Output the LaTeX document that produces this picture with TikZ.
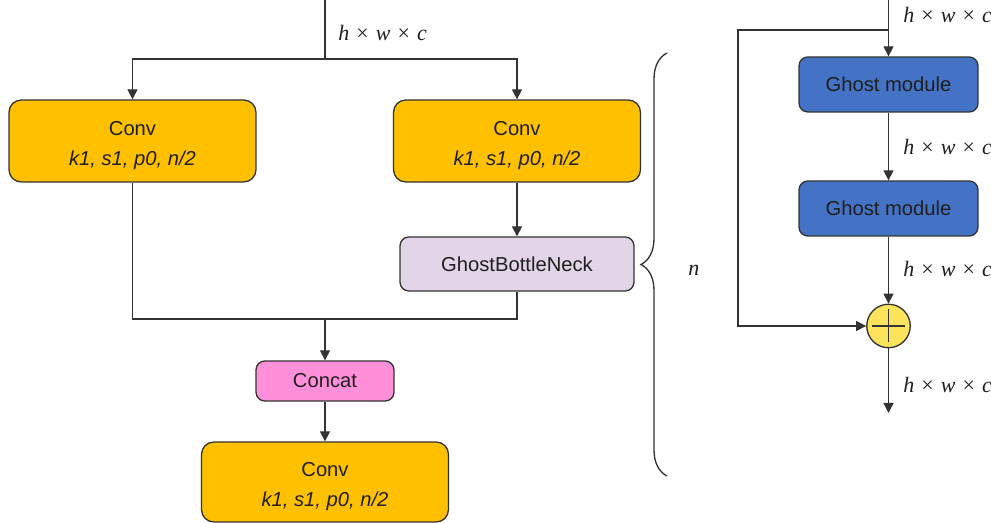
\documentclass[tikz,border=0pt]{standalone}
\usepackage{fontspec}
\setmainfont{Liberation Serif}
\setsansfont{Liberation Sans}
\definecolor{convyellow}{HTML}{FFC000}
\definecolor{ghostblue}{HTML}{4472C4}
\definecolor{gbnlilac}{HTML}{E1D5E7}
\definecolor{catpink}{HTML}{FF8FD8}
\definecolor{sumyellow}{HTML}{FBE45B}
\definecolor{linegray}{HTML}{333333}
\usetikzlibrary{positioning,arrows.meta,decorations.pathreplacing}
\newcommand{\hwc}{\textit{h}\hspace{0.9pt} ×\hspace{0.9pt} \textit{w}\hspace{0.9pt} ×\hspace{0.9pt} \textit{c}}
\newcommand{\convtxt}{\rule{0pt}{13pt}Conv\\[3pt]\textit{k1, s1, p0, n/2}}

\begin{document}
\begin{tikzpicture}[
  x=0.02cm, y=-0.02cm,
  font=\sffamily\fontsize{11.5}{13.8}\selectfont,
  blk/.style={draw=linegray, line width=0.75pt, rounded corners=5pt, align=center, inner sep=0pt, text=black!88},
  conv/.style={blk, fill=convyellow, rounded corners=7pt, minimum width=4.94cm, minimum height=1.64cm},
  gbn/.style={blk, fill=gbnlilac, minimum width=4.68cm, minimum height=1.08cm},
  cat/.style={blk, fill=catpink, minimum width=2.76cm, minimum height=0.8cm},
  ghost/.style={blk, fill=ghostblue, minimum width=3.58cm, minimum height=1.1cm},
  sumnode/.style={circle, draw=linegray, line width=0.75pt, fill=sumyellow, minimum size=0.87cm, inner sep=0pt},
  wire/.style={draw=linegray, line width=0.75pt},
  arr/.style={wire, -{Triangle[length=5.7pt, width=5.7pt]}},
  dim/.style={font=\rmfamily\fontsize{12.5}{14}\selectfont, anchor=west, inner sep=0pt, text=black!88},
  brc/.style={wire, decorate, decoration={brace, amplitude=0.52cm}},
]
  \useasboundingbox (0,0) rectangle (991,523);

  % left branch
  \coordinate (inL) at (325,0);
  \coordinate (split) at (325,59);
  \node[conv] (convL) at (132.5,141) {\convtxt};
  \node[conv] (convR) at (517,141) {\convtxt};
  \node[gbn]  (gbn) at (517,264) {GhostBottleNeck};
  \coordinate (merge) at (325,319);
  \node[cat]  (concat) at (325,381) {Concat};
  \node[conv, minimum height=1.6cm] (convB) at (325,482) {\convtxt};
  \node[dim] (dimIn) at (338,33) {\hwc};

  \draw[wire] (inL) -- (split);
  \draw[arr] (split) -| (convL);
  \draw[arr] (split) -| (convR);
  \draw[arr] (convR) -- (gbn);
  \draw[wire] (convL.south) |- (merge);
  \draw[wire] (gbn.south) |- (merge);
  \draw[arr] (merge) -- (concat);
  \draw[arr] (concat) -- (convB);

  % repeat brace
  \coordinate (brTop) at (667,53);
  \coordinate (brBot) at (667,476);
  \draw[brc] (brBot) -- (brTop);
  \node[dim] (nlab) at (688,270) {\textit{n}};

  % right: ghost bottleneck detail
  \coordinate (inR) at (888.5,0);
  \coordinate (tap) at (888.5,30);
  \coordinate (skipT) at (738,30);
  \coordinate (skipB) at (738,326);
  \node[ghost] (gm1) at (888.5,84.5) {Ghost module};
  \node[ghost] (gm2) at (888.5,208.5) {Ghost module};
  \node[sumnode] (sum) at (888.5,326) {};
  \coordinate (out) at (888.5,413);
  \draw[wire] (sum.center) ++(-16.5,0) -- ++(33,0);
  \draw[wire] (sum.center) ++(0,-16.5) -- ++(0,33);

  \draw[arr] (inR) -- (gm1);
  \draw[arr] (tap) -- (skipT) -- (skipB) -- (sum);
  \draw[arr] (gm1) -- (gm2);
  \draw[arr] (gm2) -- (sum);
  \draw[arr] (sum) -- (out);

  \node[dim] (dimA) at (903,15) {\hwc};
  \node[dim] (dimB) at (903,147) {\hwc};
  \node[dim] (dimC) at (903,269) {\hwc};
  \node[dim] (dimD) at (903,385) {\hwc};
\end{tikzpicture}
\end{document}
